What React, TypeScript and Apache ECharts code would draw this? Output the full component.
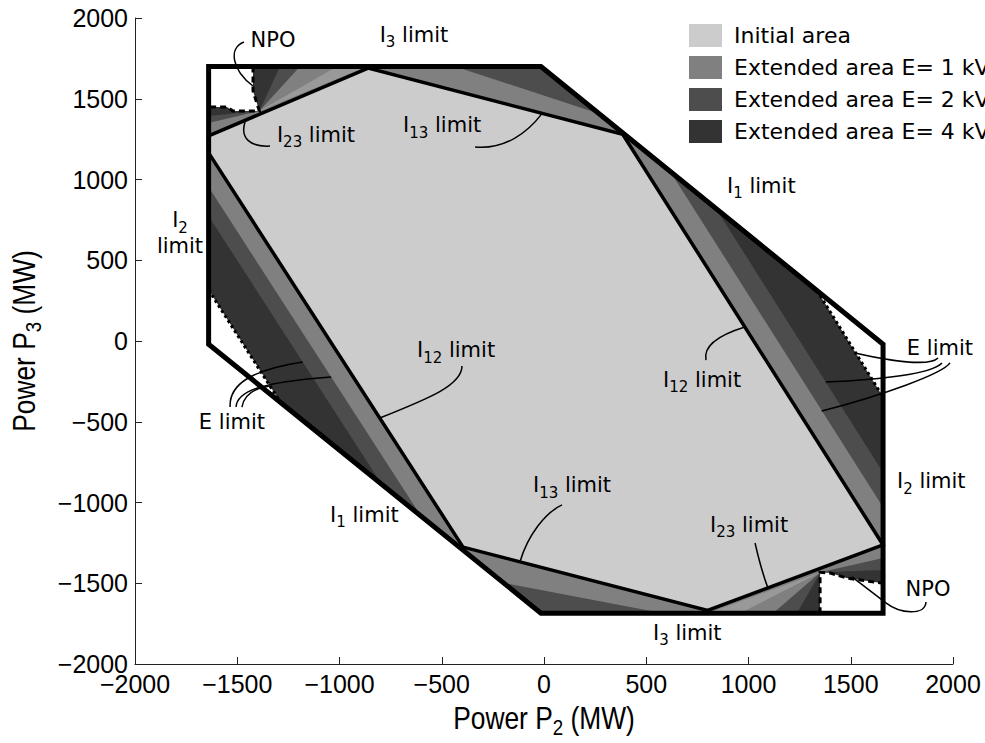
import React, { useEffect, useRef } from "react";
import * as echarts from "echarts";

type Pt = [number, number];

// ---------- axes ----------
const xTicks = [-2000, -1500, -1000, -500, 0, 500, 1000, 1500, 2000];
const yTicks = [-2000, -1500, -1000, -500, 0, 500, 1000, 1500, 2000];

// ---------- legend ----------
const areaNames = ["Initial area", "Extended area E= 1 kV", "Extended area E= 2 kV", "Extended area E= 4 kV"];
const areaColors = ["#cccccc", "#808080", "#4d4d4d", "#333333"];

// ---------- regions (P2, P3 in MW) ----------
const outerLimit: Pt[] = [[-1640, 1700], [-15, 1700], [1658, -20], [1658, -1685], [-15, -1685], [-1640, -20]];
const extended4: Pt[] = outerLimit;
const extended2: Pt[] = [[-1640, 773], [-1640, 1393], [-1392, 1424], [-1291, 1700], [-15, 1700], [840, 822], [1658, -814], [1658, -1418], [1352, -1432], [1237, -1685], [-15, -1685], [-794, -887]];
const extended1: Pt[] = [[-1640, 953], [-1640, 1350], [-1392, 1424], [-1193, 1700], [-435, 1700], [274, 1405], [617, 1050], [1658, -1029], [1658, -1344], [1352, -1432], [1120, -1685], [582, -1685], [-191, -1500], [-602, -1083]];
const fanTop: Pt[] = [[-1392, 1424], [-1012, 1700], [-865, 1700]];
const fanBottom: Pt[] = [[1352, -1432], [958, -1685], [800, -1685]];
const initialArea: Pt[] = [[-1640, 1270], [-860, 1690], [385, 1280], [1658, -1263], [800, -1668], [-396, -1276], [-1640, 1165]];
const npoTopLeft: Pt[] = [[-1640, 1700], [-1423, 1700], [-1423, 1548], [-1392, 1424], [-1521, 1424], [-1550, 1449], [-1640, 1449]];
const npoBottomRight: Pt[] = [[1658, -1685], [1350, -1685], [1350, -1432], [1400, -1437], [1480, -1468], [1658, -1500]];
const eGapLeft: Pt[] = [[-1640, 316], [-1640, -20], [-1290, -378]];
const eGapRight: Pt[] = [[1335, 312], [1658, -20], [1658, -347]];
const eLimitLeft: Pt[] = [[-1640, 316], [-1290, -378]];
const eLimitRight: Pt[] = [[1335, 312], [1658, -347]];

// ---------- annotation leaders (cubic curves, data coords) ----------
const leaderCurves: Pt[][] = [
  [[-1467, 1851], [-1545, 1814], [-1526, 1678], [-1423, 1579]],
  [[-1462, 1356], [-1487, 1257], [-1438, 1201], [-1340, 1207]],
  [[-337, 1201], [-191, 1183], [-78, 1294], [-10, 1408]],
  [[-401, -155], [-401, -272], [-557, -353], [-803, -477]],
  [[-1535, -409], [-1540, -272], [-1438, -180], [-1180, -130]],
  [[-1506, -409], [-1501, -303], [-1364, -254], [-1041, -223]],
  [[-1477, -409], [-1467, -334], [-1413, -291], [-1338, -279]],
  [[1520, -74], [1716, -130], [1888, -155], [1927, -105]],
  [[1378, -254], [1643, -241], [1897, -204], [1946, -136]],
  [[1358, -434], [1643, -341], [1951, -204], [1985, -136]],
  [[792, -118], [777, -25], [870, 43], [982, 87]],
  [[1032, -1251], [1051, -1356], [1071, -1449], [1095, -1529]],
  [[1868, -1616], [1863, -1703], [1741, -1690], [1672, -1622]],
  [[88, -1015], [5, -1065], [-78, -1201], [-117, -1365]],
];
const leaderStraight: Pt[][] = [[[1672, -1622], [1506, -1461]]];

// ---------- annotation texts ----------
type Ann = { at: Pt; main: string; sub?: string; tail?: string; line2?: string; align: string };
const annotations: Ann[] = [
  { at: [-1325, 1864], main: "NPO", align: "center" },
  { at: [-636, 1895], main: "I", sub: "3", tail: " limit", align: "center" },
  { at: [-1306, 1276], main: "I", sub: "23", tail: " limit", align: "left" },
  { at: [-689, 1337], main: "I", sub: "13", tail: " limit", align: "left" },
  { at: [895, 960], main: "I", sub: "1", tail: " limit", align: "left" },
  { at: [-1780, 680], main: "I", sub: "2", line2: "limit", align: "center" },
  { at: [-621, -56], main: "I", sub: "12", tail: " limit", align: "left" },
  { at: [-1526, -502], main: "E limit", align: "center" },
  { at: [582, -241], main: "I", sub: "12", tail: " limit", align: "left" },
  { at: [1936, -43], main: "E limit", align: "center" },
  { at: [1726, -867], main: "I", sub: "2", tail: " limit", align: "left" },
  { at: [812, -1139], main: "I", sub: "23", tail: " limit", align: "left" },
  { at: [1878, -1536], main: "NPO", align: "center" },
  { at: [-54, -892], main: "I", sub: "13", tail: " limit", align: "left" },
  { at: [-1046, -1077], main: "I", sub: "1", tail: " limit", align: "left" },
  { at: [533, -1808], main: "I", sub: "3", tail: " limit", align: "left" },
];

const ANN_FONT = "'DejaVu Sans', sans-serif";
const TICK_FONT = "'Liberation Sans', Arial, sans-serif";
const TITLE_FONT = "'Liberation Sans', Arial, sans-serif";

const annRich = {
  m: { fontFamily: ANN_FONT, fontSize: 21, lineHeight: 30, verticalAlign: "middle", fill: "#000" },
  s: { fontFamily: ANN_FONT, fontSize: 15, lineHeight: 16, verticalAlign: "bottom", fill: "#000" },
  l: { fontFamily: ANN_FONT, fontSize: 21, lineHeight: 22, verticalAlign: "middle", fill: "#000" },
};

const titleRich = {
  m: { fontFamily: TITLE_FONT, fontSize: 31, lineHeight: 40, verticalAlign: "middle", fill: "#000" },
  s: { fontFamily: TITLE_FONT, fontSize: 22, lineHeight: 22, verticalAlign: "bottom", fill: "#000" },
};

const fmtTick = (v: number) => (v < 0 ? "\u2212" + Math.abs(v) : String(v));

function annText(a: Ann) {
  let t = `{m|${a.main}}`;
  if (a.sub) t += `{s|${a.sub}}`;
  if (a.tail) t += `{m|${a.tail}}`;
  if (a.line2) t += `\n{l|${a.line2}}`;
  return t;
}

function polySeries(name: string | undefined, pts: Pt[], style: any) {
  return {
    type: "custom",
    name,
    coordinateSystem: "cartesian2d",
    silent: true,
    clip: false,
    itemStyle: style.fill && style.fill !== "none" ? { color: style.fill } : undefined,
    data: [[0, 0]],
    renderItem: (_p: any, api: any) => ({
      type: "polygon",
      shape: { points: pts.map((p) => api.coord(p)) },
      style,
    }),
  };
}

export default function App() {
  const ref = useRef<HTMLDivElement>(null);

  useEffect(() => {
    document.body.style.margin = "0";
    if (!ref.current) return;
    const chart = echarts.init(ref.current, undefined, { renderer: "svg" });

    const linesSeries = {
      type: "custom",
      coordinateSystem: "cartesian2d",
      silent: true,
      clip: false,
      data: [[0, 0]],
      renderItem: (_p: any, api: any) => {
        const c = (p: Pt) => api.coord(p);
        const children: any[] = [];
        children.push({
          type: "polygon",
          shape: { points: outerLimit.map(c) },
          style: { fill: "none", stroke: "#000", lineWidth: 5, lineJoin: "miter" },
        });
        children.push({
          type: "polyline",
          shape: { points: npoTopLeft.slice(1).map(c) },
          style: { fill: "none", stroke: "#000", lineWidth: 3, lineDash: [6, 4] },
        });
        children.push({
          type: "polyline",
          shape: { points: npoBottomRight.slice(1).map(c) },
          style: { fill: "none", stroke: "#000", lineWidth: 3, lineDash: [6, 4] },
        });
        [eLimitLeft, eLimitRight].forEach((l) =>
          children.push({
            type: "polyline",
            shape: { points: l.map(c) },
            style: { fill: "none", stroke: "#000", lineWidth: 3, lineDash: [3, 3] },
          })
        );
        leaderCurves.forEach((q) => {
          const [a, b, d, e] = q.map(c);
          children.push({
            type: "bezierCurve",
            shape: { x1: a[0], y1: a[1], cpx1: b[0], cpy1: b[1], cpx2: d[0], cpy2: d[1], x2: e[0], y2: e[1] },
            style: { fill: "none", stroke: "#000", lineWidth: 1.5 },
          });
        });
        leaderStraight.forEach((l) =>
          children.push({
            type: "polyline",
            shape: { points: l.map(c) },
            style: { fill: "none", stroke: "#000", lineWidth: 1.5 },
          })
        );
        return { type: "group", children };
      },
    };

    const textSeries = {
      type: "custom",
      coordinateSystem: "cartesian2d",
      silent: true,
      clip: false,
      data: [[0, 0]],
      renderItem: (_p: any, api: any) => ({
        type: "group",
        children: annotations.map((a) => {
          const p = api.coord(a.at);
          return {
            type: "text",
            x: p[0],
            y: p[1],
            style: {
              text: annText(a),
              rich: annRich,
              fontFamily: ANN_FONT,
              fontSize: 21,
              fill: "#000",
              align: a.align,
              verticalAlign: "middle",
            },
          };
        }),
      }),
    };

    const option: any = {
      animation: false,
      grid: { left: 135, right: 32, top: 18, bottom: 79, containLabel: false },
      legend: {
        data: areaNames,
        orient: "vertical",
        left: 689,
        top: 24,
        padding: 0,
        itemWidth: 33,
        itemHeight: 23,
        itemGap: 9,
        icon: "rect",
        selectedMode: false,
        textStyle: { fontFamily: ANN_FONT, fontSize: 22, lineHeight: 23, color: "#000", padding: [0, 0, 0, 7] },
      },
      graphic: [
        {
          type: "text",
          x: 544,
          y: 718,
          scaleX: 0.85,
          silent: true,
          style: { text: "{m|Power P}{s|2}{m| (MW)}", rich: titleRich, align: "center", verticalAlign: "middle", fill: "#000" },
        },
        {
          type: "text",
          x: 24,
          y: 341,
          scaleX: 0.85,
          rotation: Math.PI / 2,
          silent: true,
          style: { text: "{m|Power P}{s|3}{m| (MW)}", rich: titleRich, align: "center", verticalAlign: "middle", fill: "#000" },
        },
      ],
      xAxis: {
        type: "value",
        min: xTicks[0],
        max: xTicks[xTicks.length - 1],
        interval: xTicks[1] - xTicks[0],
        axisLine: { onZero: false, lineStyle: { color: "#222", width: 1 } },
        axisTick: { inside: true, length: 7, lineStyle: { color: "#222" } },
        axisLabel: { fontFamily: TICK_FONT, fontSize: 25, color: "#000", margin: 7, formatter: fmtTick },
        splitLine: { show: false },
      },
      yAxis: {
        type: "value",
        min: yTicks[0],
        max: yTicks[yTicks.length - 1],
        interval: yTicks[1] - yTicks[0],
        axisLine: { onZero: false, lineStyle: { color: "#222", width: 1 } },
        axisTick: { inside: true, length: 7, lineStyle: { color: "#222" } },
        axisLabel: { fontFamily: TICK_FONT, fontSize: 25, color: "#000", margin: 7, formatter: fmtTick },
        splitLine: { show: false },
      },
      series: [
        polySeries(areaNames[3], extended4, { fill: areaColors[3], stroke: "none" }),
        polySeries(undefined, npoTopLeft, { fill: "#ffffff", stroke: "none" }),
        polySeries(undefined, npoBottomRight, { fill: "#ffffff", stroke: "none" }),
        polySeries(undefined, eGapLeft, { fill: "#ffffff", stroke: "none" }),
        polySeries(undefined, eGapRight, { fill: "#ffffff", stroke: "none" }),
        polySeries(areaNames[2], extended2, { fill: areaColors[2], stroke: "none" }),
        polySeries(areaNames[1], extended1, { fill: areaColors[1], stroke: "none" }),
        polySeries(undefined, fanTop, { fill: "#999999", stroke: "none" }),
        polySeries(undefined, fanBottom, { fill: "#999999", stroke: "none" }),
        polySeries(areaNames[0], initialArea, { fill: areaColors[0], stroke: "#000", lineWidth: 3.5, lineJoin: "miter" }),
        linesSeries,
        textSeries,
      ],
    };

    chart.setOption(option);
    return () => chart.dispose();
  }, []);

  return <div ref={ref} style={{ width: 985, height: 743 }} />;
}
